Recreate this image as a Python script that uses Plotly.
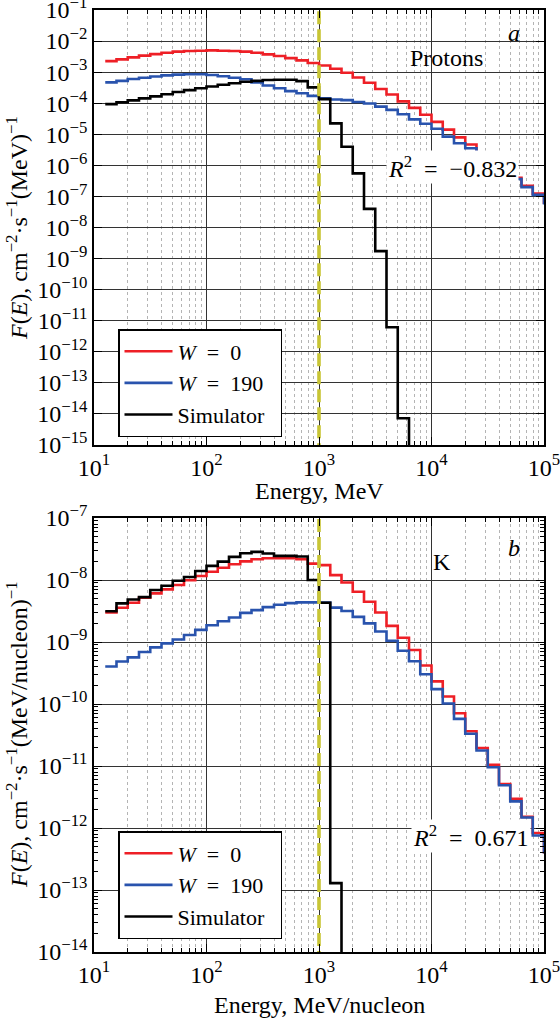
import plotly.graph_objects as go

# ---------------- data ----------------
# bin edges (MeV or MeV/nucleon), 10 log bins per decade
bin_edges = [12.59, 15.85, 19.95, 25.12, 31.62, 39.81, 50.12, 63.10, 79.43, 100.0,
             125.9, 158.5, 199.5, 251.2, 316.2, 398.1, 501.2, 631.0, 794.3, 1000.0,
             1259, 1585, 1995, 2512, 3162, 3981, 5012, 6310, 7943, 10000,
             12589, 15849, 19953, 25119, 31623, 39811, 50119, 63096, 79433, 100000,
             125893]

# Panel a: protons
p_w0 = [2.27e-3, 2.57e-3, 2.98e-3, 3.39e-3, 3.80e-3, 4.22e-3, 4.57e-3, 4.79e-3, 4.90e-3, 5.01e-3,
        4.90e-3, 4.79e-3, 4.57e-3, 4.22e-3, 3.72e-3, 3.31e-3, 2.82e-3, 2.40e-3, 1.97e-3, 1.64e-3,
        1.29e-3, 9.55e-4, 6.76e-4, 4.57e-4, 2.88e-4, 1.91e-4, 1.15e-4, 7.08e-5, 4.27e-5, 2.51e-5,
        1.41e-5, 7.94e-6, 4.68e-6, 2.51e-6, 1.35e-6, 7.4e-7, 3.98e-7, 2.19e-7, 1.23e-7, 6.3e-8]
p_w190 = [4.68e-4, 5.25e-4, 6.03e-4, 6.61e-4, 7.24e-4, 7.85e-4, 8.32e-4, 8.51e-4, 8.51e-4, 8.13e-4,
          7.41e-4, 6.61e-4, 5.89e-4, 4.68e-4, 3.72e-4, 3.02e-4, 2.45e-4, 2.09e-4, 1.72e-4, 1.45e-4,
          1.32e-4, 1.26e-4, 1.10e-4, 9.77e-5, 7.76e-5, 6.10e-5, 4.42e-5, 3.02e-5, 2.19e-5, 1.51e-5,
          8.41e-6, 5.13e-6, 3.55e-6, 2.40e-6, 1.41e-6, 7.6e-7, 3.63e-7, 2.0e-7, 1.12e-7, 6.0e-8]
p_sim = [9.33e-5, 1.07e-4, 1.23e-4, 1.43e-4, 1.66e-4, 1.95e-4, 2.29e-4, 2.63e-4, 3.02e-4, 3.47e-4,
         3.94e-4, 4.37e-4, 4.90e-4, 5.25e-4, 5.56e-4, 5.69e-4, 5.69e-4, 5.13e-4, 3.24e-4, 1.35e-4,
         2.24e-5, 3.98e-6, 5.50e-7, 3.98e-8, 1.74e-9, 6.17e-12, 7.24e-15, 1e-16]

# Panel b: K
k_w0 = [2.99e-9, 3.56e-9, 4.29e-9, 5.18e-9, 6.08e-9, 7.06e-9, 8.30e-9, 9.89e-9, 1.16e-8, 1.36e-8,
        1.58e-8, 1.79e-8, 2.00e-8, 2.16e-8, 2.24e-8, 2.24e-8, 2.24e-8, 2.16e-8, 1.84e-8, 1.74e-8,
        1.20e-8, 9.12e-9, 6.46e-9, 4.47e-9, 2.99e-9, 1.82e-9, 1.17e-9, 7.41e-10, 4.17e-10, 2.32e-10,
        1.32e-10, 7.08e-11, 3.63e-11, 1.95e-11, 1.05e-11, 5.13e-12, 2.95e-12, 1.51e-12, 8.32e-13, 4.07e-13]
k_w190 = [4.03e-10, 4.85e-10, 5.64e-10, 6.89e-10, 8.20e-10, 9.51e-10, 1.10e-9, 1.30e-9, 1.57e-9, 1.86e-9,
          2.16e-9, 2.48e-9, 2.95e-9, 3.27e-9, 3.65e-9, 3.98e-9, 4.24e-9, 4.35e-9, 4.35e-9, 4.32e-9,
          3.59e-9, 3.16e-9, 2.54e-9, 2.00e-9, 1.48e-9, 1.05e-9, 7.24e-10, 4.90e-10, 3.02e-10, 1.74e-10,
          1.02e-10, 5.75e-11, 3.31e-11, 1.78e-11, 9.55e-12, 4.90e-12, 2.69e-12, 1.48e-12, 7.59e-13, 4.07e-13]
k_sim = [3.14e-9, 4.19e-9, 4.85e-9, 5.30e-9, 6.89e-9, 8.09e-9, 9.75e-9, 1.12e-8, 1.40e-8, 1.69e-8,
         1.98e-8, 2.36e-8, 2.70e-8, 2.84e-8, 2.67e-8, 2.45e-8, 2.45e-8, 2.39e-8, 1.0e-8, 4.30e-9,
         1.29e-13, 1e-15]

cutoff_energy = 1000.0
x_ticks = [1e1, 1e2, 1e3, 1e4, 1e5]
x_ticktext = ["10<sup>1</sup>", "10<sup>2</sup>", "10<sup>3</sup>", "10<sup>4</sup>", "10<sup>5</sup>"]
ya_exps = list(range(-1, -16, -1))
yb_exps = list(range(-7, -15, -1))

series_names = ["<i>W</i>\u2002=\u20020", "<i>W</i>\u2002=\u2002190", "Simulator\u2002"]
colors = ["#ee1f26", "#2953ad", "#000000"]
r2_texts = ["<i>R</i><sup>2</sup>\u2002=\u2002\u22120.832", "<i>R</i><sup>2</sup>\u2002=\u20020.671"]
x_titles = ["Energy, MeV", "Energy, MeV/nucleon"]
y_titles = ["<i>F</i>(<i>E</i>), cm<sup>\u22122</sup>\u00b7s<sup>\u22121</sup>(MeV)<sup>\u22121</sup>",
            "<i>F</i>(<i>E</i>), cm<sup>\u22122</sup>\u00b7s<sup>\u22121</sup>(MeV/nucleon)<sup>\u22121</sup>"]

# ---------------- style ----------------
FONT = "Liberation Serif, Times New Roman, serif"
FS = 24
W, H = 560, 1022
ML, MR, MT, MB = 94, 16, 10, 70
PW = W - ML - MR
PH = H - MT - MB


def px2paper(px, py):
    return (px - ML) / PW, (H - MB - py) / PH


top_dom = [(H - MB - 445) / PH, 1.0]
bot_dom = [0.0, (H - MB - 518) / PH]

minor_x = [m * 10 ** e for e in range(1, 5) for m in range(2, 10)]


def step_xy(values):
    n = len(values)
    return bin_edges[: n + 1], list(values) + [values[-1]]


fig = go.Figure()

panels = [
    ("x", "y", [p_w0, p_w190, p_sim], "legend", [1e-20, 1.0]),
    ("x2", "y2", [k_w0, k_w190, k_sim], "legend2", [1e-20, 1e-5]),
]
for xa, ya, sers, leg, yspan in panels:
    for name, col, vals in zip(series_names, colors, sers):
        xs, ys = step_xy(vals)
        fig.add_trace(go.Scatter(
            x=xs, y=ys, mode="lines", line=dict(shape="hv", color=col, width=2.6),
            name=name, xaxis=xa, yaxis=ya, legend=leg, showlegend=True,
            hoverinfo="skip"))
    fig.add_trace(go.Scatter(
        x=[cutoff_energy, cutoff_energy], y=yspan, mode="lines",
        line=dict(color="#c8c535", width=3.6, dash="13px,5px"),
        xaxis=xa, yaxis=ya, showlegend=False, hoverinfo="skip"))


def xcfg(anchor):
    return dict(
        type="log", range=[1, 5], anchor=anchor,
        tickvals=x_ticks, ticktext=x_ticktext,
        ticks="inside", ticklen=8, tickwidth=1, tickcolor="black",
        mirror="allticks", showline=True, linecolor="black", linewidth=1.5,
        showgrid=True, gridcolor="#333333", gridwidth=1, zeroline=False,
        minor=dict(tickvals=minor_x, ticks="inside", ticklen=4, tickcolor="black",
                   showgrid=True, gridcolor="#b4b4b4", griddash="dot", gridwidth=1),
        tickfont=dict(family=FONT, size=FS, color="black"),
        ticklabeloverflow="allow", automargin=False,
    )


def ycfg(exps, anchor, domain, minor_on):
    cfg = dict(
        type="log", range=[exps[-1], exps[0]], anchor=anchor, domain=domain,
        tickvals=[10.0 ** e for e in exps],
        ticktext=["10<sup>\u2212%d</sup>" % (-e) for e in exps],
        ticks="inside", ticklen=8, tickwidth=1, tickcolor="black",
        mirror="allticks", showline=True, linecolor="black", linewidth=1.5,
        showgrid=True, gridcolor="#333333", gridwidth=1, zeroline=False,
        tickfont=dict(family=FONT, size=FS, color="black"),
        ticklabeloverflow="allow", automargin=False,
    )
    if minor_on:
        mv = [m * 10.0 ** e for e in range(exps[-1], exps[0]) for m in range(2, 10)]
        cfg["minor"] = dict(tickvals=mv, ticks="inside", ticklen=4, tickcolor="black",
                            showgrid=False)
    return cfg


legend_common = dict(
    bgcolor="white", bordercolor="black", borderwidth=1.5,
    font=dict(family=FONT, size=22, color="black"),
    xanchor="left", yanchor="top", tracegroupgap=0, itemwidth=48,
)
lx, ly1 = px2paper(118, 329)
_, ly2 = px2paper(121, 831)

fig.update_layout(
    width=W, height=H, autosize=False,
    margin=dict(l=ML, r=MR, t=MT, b=MB, pad=0),
    plot_bgcolor="white", paper_bgcolor="white",
    font=dict(family=FONT, size=FS, color="black"),
    xaxis=xcfg("y"),
    yaxis=ycfg(ya_exps, "x", top_dom, False),
    xaxis2=xcfg("y2"),
    yaxis2=ycfg(yb_exps, "x2", bot_dom, True),
    legend=dict(x=lx, y=ly1, **legend_common),
    legend2=dict(x=lx, y=ly2, **legend_common),
    showlegend=True,
)


def add_label(text, px, py, bg=False, size=FS, angle=0):
    x, y = px2paper(px, py)
    kw = dict(bgcolor="white", borderpad=1) if bg else {}
    fig.add_annotation(x=x, y=y, xref="paper", yref="paper", text=text, showarrow=False,
                       font=dict(family=FONT, size=size, color="black"), textangle=angle,
                       xanchor="center", yanchor="middle", **kw)


add_label("<i>a</i>", 514, 33)
add_label("Protons", 446, 58)
add_label(r2_texts[0], 452, 167, bg=True)
add_label("<i>b</i>", 514, 548)
add_label("K", 442, 562)
add_label(r2_texts[1], 471, 836, bg=True)
add_label(x_titles[0], 319, 491)
add_label(x_titles[1], 319, 1005)
add_label(y_titles[0], 17, 228, angle=-90)
add_label(y_titles[1], 17, 735, angle=-90)

fig.write_html("out.html", config={"displayModeBar": False},
               post_script="document.body.style.margin='0px';")
